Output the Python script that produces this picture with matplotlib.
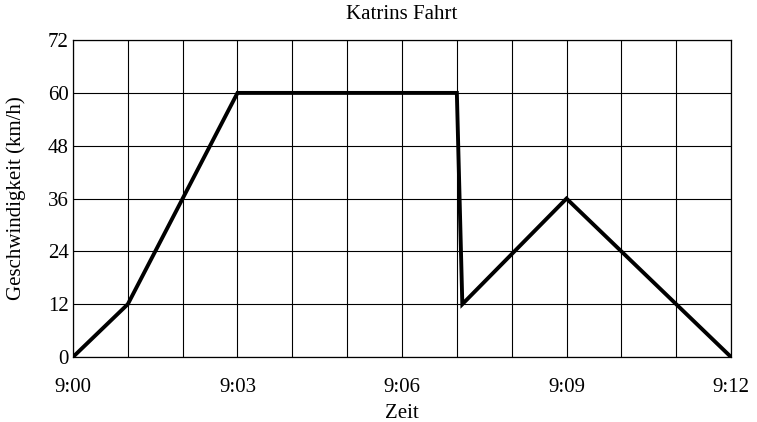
import matplotlib

matplotlib.use("Agg")
import matplotlib.pyplot as plt

# minutes after 9:00 and speed in km/h
minutes = [0, 1, 3, 7, 7.1, 9, 12]
speed = [0, 12, 60, 60, 12, 36, 0]

x_ticks = [0, 3, 6, 9, 12]
x_labels = ["9:00", "9:03", "9:06", "9:09", "9:12"]
y_ticks = [0, 12, 24, 36, 48, 60, 72]

plt.rcParams["font.family"] = ["Liberation Serif", "DejaVu Serif"]

fig = plt.figure(figsize=(7.57, 4.22), dpi=100)
ax = fig.add_axes([0.0964, 0.154, 0.8693, 0.751])

ax.plot(minutes, speed, color="black", linewidth=2.8, solid_joinstyle="miter")

ax.set_xlim(0, 12)
ax.set_ylim(0, 72)
ax.set_xticks(x_ticks)
ax.set_xticklabels(x_labels)
ax.set_xticks(range(0, 13), minor=True)
ax.set_yticks(y_ticks)
ax.grid(True, which="both", color="black", linewidth=0.8)
ax.tick_params(which="both", length=0, labelsize=15)
ax.tick_params(axis="x", pad=15)
ax.tick_params(axis="y", pad=3)
for spine in ax.spines.values():
    spine.set_linewidth(0.9)

ax.set_xlabel("Zeit", fontsize=15, labelpad=5)
ax.set_ylabel("Geschwindigkeit (km/h)", fontsize=15, labelpad=16)
ax.set_title("Katrins Fahrt", fontsize=15, pad=15)

fig.savefig("out.png", dpi=100)
